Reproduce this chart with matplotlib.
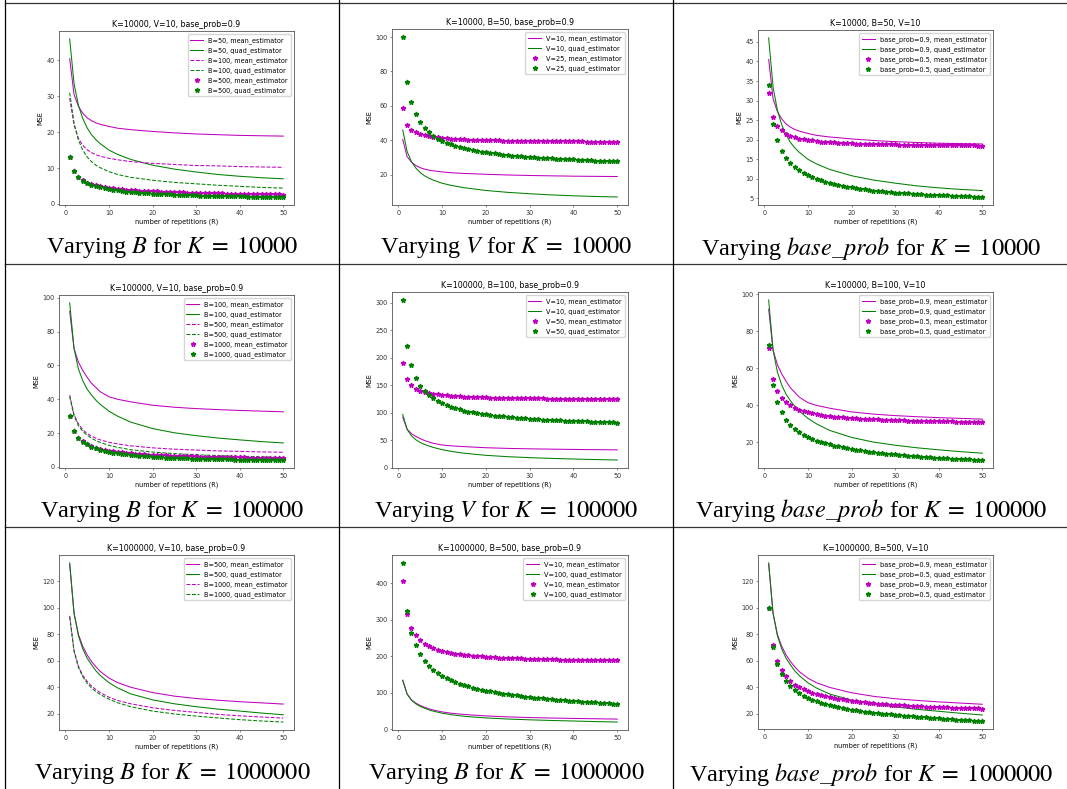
import matplotlib
matplotlib.use("Agg")
import matplotlib.pyplot as plt

plt.rcParams['mathtext.fontset'] = 'stix'

# repetitions R
R = list(range(1, 51))
R_line = [1, 2, 3, 4, 5, 6, 7, 8, 10, 12, 15, 20, 25, 30, 35, 40, 45, 50]

# ---- K=10000 ----
k1e4_mean_b50 = [40.5, 30.5, 27.2, 25.3, 24.0, 23.2, 22.6, 22.2, 21.6, 21.1, 20.7, 20.2, 19.8, 19.5, 19.3, 19.1, 19.0, 18.9]
k1e4_quad_b50 = [46.0, 33.5, 27.5, 23.8, 21.2, 19.3, 17.9, 16.8, 15.0, 13.8, 12.4, 10.8, 9.7, 8.9, 8.2, 7.7, 7.3, 7.0]
k1e4_mean_b100 = [29.5, 22.0, 18.3, 16.3, 15.1, 14.3, 13.7, 13.3, 12.7, 12.3, 11.8, 11.3, 11.0, 10.7, 10.6, 10.4, 10.3, 10.2]
k1e4_quad_b100 = [31.0, 22.5, 17.8, 15.0, 13.1, 11.8, 10.8, 10.1, 9.0, 8.2, 7.4, 6.6, 6.0, 5.6, 5.2, 4.9, 4.6, 4.4]
k1e4_mean_b500 = [13.0, 9.2, 7.6, 6.6, 5.9, 5.5, 5.2, 4.9, 4.7, 4.5,
                  4.35, 4.2, 4.1, 4.0, 3.9, 3.8, 3.7, 3.65, 3.6, 3.55,
                  3.5, 3.45, 3.4, 3.35, 3.3, 3.25, 3.2, 3.17, 3.14, 3.1,
                  3.07, 3.04, 3.0, 2.98, 2.95, 2.92, 2.9, 2.87, 2.85, 2.82,
                  2.8, 2.78, 2.76, 2.74, 2.72, 2.7, 2.68, 2.66, 2.64, 2.62]
k1e4_quad_b500 = [13.2, 9.2, 7.5, 6.5, 5.8, 5.3, 4.9, 4.6, 4.35, 4.1,
                  3.9, 3.75, 3.6, 3.45, 3.35, 3.25, 3.15, 3.05, 2.97, 2.9,
                  2.83, 2.77, 2.71, 2.65, 2.6, 2.55, 2.5, 2.46, 2.42, 2.38,
                  2.34, 2.31, 2.28, 2.25, 2.22, 2.19, 2.16, 2.14, 2.11, 2.09,
                  2.07, 2.05, 2.03, 2.01, 1.99, 1.97, 1.95, 1.93, 1.92, 1.9]
k1e4_mean_v25 = [59, 49, 46, 44.5, 43.5, 42.8, 42.3, 41.9, 41.6, 41.3,
                 41.1, 40.9, 40.8, 40.6, 40.5, 40.4, 40.3, 40.2, 40.1, 40.0,
                 40.0, 39.9, 39.9, 39.8, 39.8, 39.7, 39.7, 39.6, 39.6, 39.6,
                 39.5, 39.5, 39.5, 39.4, 39.4, 39.4, 39.4, 39.3, 39.3, 39.3,
                 39.3, 39.3, 39.2, 39.2, 39.2, 39.2, 39.2, 39.1, 39.1, 39.1]
k1e4_quad_v25 = [100, 74, 62, 55, 50.5, 47, 44.5, 42.5, 41, 39.7,
                 38.6, 37.6, 36.8, 36.1, 35.4, 34.8, 34.3, 33.8, 33.4, 33.0,
                 32.6, 32.3, 32.0, 31.7, 31.4, 31.1, 30.9, 30.7, 30.5, 30.3,
                 30.1, 29.9, 29.7, 29.6, 29.4, 29.3, 29.1, 29.0, 28.9, 28.8,
                 28.6, 28.5, 28.4, 28.3, 28.2, 28.1, 28.0, 27.9, 27.8, 27.7]
k1e4_mean_bp05 = [32, 25.9, 23.5, 22.4, 21.5, 21.0, 20.6, 20.3, 20.1, 19.9,
                  19.8, 19.6, 19.5, 19.4, 19.35, 19.3, 19.2, 19.15, 19.1, 19.05,
                  19.0, 19.0, 18.95, 18.9, 18.9, 18.85, 18.85, 18.8, 18.8, 18.8,
                  18.75, 18.75, 18.7, 18.7, 18.7, 18.7, 18.65, 18.65, 18.65, 18.6,
                  18.6, 18.6, 18.6, 18.6, 18.55, 18.55, 18.55, 18.55, 18.5, 18.5]
k1e4_quad_bp05 = [33.9, 24.1, 19.8, 17.2, 15.4, 14.0, 13.0, 12.2, 11.5, 10.9,
                  10.4, 10.0, 9.6, 9.3, 9.0, 8.7, 8.4, 8.2, 8.0, 7.8,
                  7.6, 7.45, 7.3, 7.15, 7.0, 6.9, 6.8, 6.7, 6.6, 6.5,
                  6.4, 6.35, 6.3, 6.2, 6.15, 6.1, 6.0, 5.95, 5.9, 5.85,
                  5.8, 5.75, 5.7, 5.65, 5.6, 5.55, 5.5, 5.45, 5.4, 5.35]

# ---- K=100000 ----
k1e5_mean_b100 = [92, 70, 62, 57, 53, 49.5, 47, 44.5, 41.5, 40, 38.5, 36.5, 35.3, 34.5, 33.9, 33.4, 33.0, 32.6]
k1e5_quad_b100 = [97, 70, 58, 51, 46, 42.5, 39.5, 37, 33, 30, 26.5, 22.7, 20.2, 18.5, 17.1, 16.0, 15.0, 14.2]
k1e5_mean_b500 = [42.5, 31, 25.5, 22, 19.8, 18.2, 17, 16, 14.6, 13.6, 12.5, 11.3, 10.5, 10.0, 9.5, 9.2, 8.9, 8.7]
k1e5_quad_b500 = [41.5, 30, 24.5, 21, 18.8, 17.0, 15.6, 14.5, 12.8, 11.6, 10.2, 8.8, 7.9, 7.2, 6.7, 6.3, 6.0, 5.7]
k1e5_mean_b1000 = [30, 21.3, 17.4, 15.1, 13.5, 12.3, 11.4, 10.7, 10.1, 9.6,
                   9.2, 8.85, 8.55, 8.3, 8.05, 7.85, 7.65, 7.5, 7.35, 7.2,
                   7.05, 6.95, 6.85, 6.75, 6.65, 6.55, 6.45, 6.4, 6.3, 6.25,
                   6.15, 6.1, 6.05, 6.0, 5.9, 5.85, 5.8, 5.75, 5.7, 5.65,
                   5.6, 5.55, 5.5, 5.5, 5.45, 5.4, 5.35, 5.3, 5.3, 5.25]
k1e5_quad_b1000 = [30, 21.3, 17.4, 15.0, 13.3, 12.0, 11.0, 10.2, 9.6, 9.0,
                   8.5, 8.1, 7.7, 7.4, 7.1, 6.85, 6.6, 6.4, 6.2, 6.0,
                   5.85, 5.7, 5.55, 5.45, 5.35, 5.25, 5.15, 5.05, 4.95, 4.9,
                   4.8, 4.75, 4.7, 4.65, 4.6, 4.55, 4.5, 4.45, 4.4, 4.35,
                   4.3, 4.27, 4.24, 4.21, 4.18, 4.15, 4.12, 4.09, 4.06, 4.03]
k1e5_mean_v50 = [190, 161, 150, 144, 140.5, 138, 136, 134.5, 133.3, 132.3,
                 131.5, 130.8, 130.2, 129.7, 129.3, 128.9, 128.6, 128.3, 128.0, 127.8,
                 127.6, 127.4, 127.2, 127.0, 126.9, 126.7, 126.6, 126.5, 126.4, 126.3,
                 126.2, 126.1, 126.0, 125.9, 125.8, 125.8, 125.7, 125.6, 125.6, 125.5,
                 125.5, 125.4, 125.4, 125.3, 125.3, 125.2, 125.2, 125.1, 125.1, 125.0]
k1e5_quad_v50 = [305, 221, 186, 163, 149, 140, 132, 126, 121, 117,
                 113.5, 110.5, 108, 106, 104, 102.3, 100.8, 99.4, 98.2, 97,
                 96, 95, 94.1, 93.3, 92.5, 91.8, 91.1, 90.5, 89.9, 89.3,
                 88.8, 88.3, 87.8, 87.4, 87.0, 86.6, 86.2, 85.8, 85.5, 85.1,
                 84.8, 84.5, 84.2, 83.9, 83.6, 83.3, 83.0, 82.8, 82.5, 82.2]
k1e5_mean_bp05 = [71, 54.5, 47.7, 44.2, 41.7, 40.0, 38.7, 37.7, 36.9, 36.2,
                  35.7, 35.2, 34.8, 34.5, 34.2, 33.9, 33.7, 33.5, 33.3, 33.1,
                  33.0, 32.8, 32.7, 32.6, 32.5, 32.4, 32.3, 32.2, 32.1, 32.0,
                  31.95, 31.9, 31.8, 31.75, 31.7, 31.65, 31.6, 31.55, 31.5, 31.45,
                  31.4, 31.4, 31.35, 31.3, 31.3, 31.25, 31.2, 31.2, 31.15, 31.1]
k1e5_quad_bp05 = [72.5, 51.3, 41.6, 36.2, 32.2, 29.5, 27.3, 25.6, 24.1, 22.9,
                  21.9, 21.0, 20.2, 19.5, 18.9, 18.3, 17.8, 17.3, 16.9, 16.5,
                  16.0, 15.7, 15.3, 15.0, 14.7, 14.4, 14.1, 13.9, 13.7, 13.5,
                  13.3, 13.1, 12.9, 12.7, 12.5, 12.35, 12.2, 12.0, 11.85, 11.7,
                  11.5, 11.4, 11.25, 11.15, 11.0, 10.9, 10.8, 10.7, 10.6, 10.5]

# ---- K=1000000 ----
k1e6_mean_b500 = [133, 96, 80, 71, 64.5, 59.5, 55.5, 52, 47, 43.5, 40, 36, 33.3, 31.5, 30.2, 29.1, 28.2, 27.3]
k1e6_quad_b500 = [134, 96, 79, 69, 62, 57, 52.5, 49, 43.5, 39.5, 35, 30.5, 27.5, 25.3, 23.5, 22, 20.5, 19.2]
k1e6_mean_b1000 = [94, 68, 56, 49, 44.5, 41, 38.2, 36, 32.5, 30, 27.5, 24.5, 22.5, 21, 19.5, 18.4, 17.5, 16.7]
k1e6_quad_b1000 = [93, 67, 55, 48, 43, 39.5, 36.8, 34.5, 31, 28.3, 25.3, 22, 19.8, 18.2, 16.8, 15.5, 14.5, 13.7]
k1e6_mean_v100 = [405, 316, 278, 257, 244, 234, 227, 221.5, 217.5, 214,
                  211, 208.5, 206.5, 205, 203.5, 202.2, 201, 200, 199, 198.2,
                  197.4, 196.7, 196, 195.4, 194.8, 194.3, 193.8, 193.4, 193, 192.6,
                  192.2, 191.9, 191.6, 191.3, 191, 190.7, 190.5, 190.2, 190, 189.8,
                  189.6, 189.4, 189.2, 189, 188.8, 188.7, 188.5, 188.3, 188.2, 188]
k1e6_quad_v100 = [455, 324, 264, 229, 205, 187, 174, 162, 153, 146,
                  139.5, 134, 129, 124.5, 120.5, 117, 113.7, 110.8, 108, 105.3,
                  103.0, 101.0, 99.0, 97.2, 95.4, 93.7, 92.0, 90.5, 89.0, 87.5,
                  86.3, 85.1, 84.0, 82.9, 81.8, 80.8, 79.8, 78.8, 77.9, 77.0,
                  76.2, 75.4, 74.6, 73.8, 73.0, 72.2, 71.4, 70.6, 69.8, 69.0]
k1e6_mean_bp = [100, 72, 60, 52.8, 48.4, 44.9, 42.2, 40.2, 38.6, 37.2,
                36.0, 35.0, 34.1, 33.3, 32.6, 32.0, 31.4, 30.9, 30.4, 29.9,
                29.5, 29.1, 28.7, 28.4, 28.1, 27.8, 27.5, 27.3, 27.0, 26.8,
                26.6, 26.4, 26.2, 26.0, 25.8, 25.7, 25.5, 25.4, 25.2, 25.1,
                25.0, 24.9, 24.8, 24.7, 24.6, 24.5, 24.4, 24.3, 24.2, 24.1]
k1e6_quad_bp = [99.6, 70.5, 57.8, 49.9, 44.6, 41.1, 38.2, 35.7, 33.8, 32.2,
                30.8, 29.6, 28.5, 27.6, 26.7, 25.9, 25.2, 24.5, 23.9, 23.3,
                22.8, 22.3, 21.8, 21.4, 21.0, 20.6, 20.2, 19.9, 19.6, 19.3,
                19.0, 18.7, 18.4, 18.1, 17.9, 17.6, 17.4, 17.1, 16.9, 16.7,
                16.4, 16.2, 16.0, 15.8, 15.6, 15.4, 15.2, 15.0, 14.8, 14.6]

M = 'm'
G = 'g'

panels = [
    ("K=10000, V=10, base_prob=0.9", (59, 31, 294, 205), [0, 10, 20, 30, 40], [
        (R_line, k1e4_mean_b50, M, '-', "B=50, mean_estimator"),
        (R_line, k1e4_quad_b50, G, '-', "B=50, quad_estimator"),
        (R_line, k1e4_mean_b100, M, '--', "B=100, mean_estimator"),
        (R_line, k1e4_quad_b100, G, '--', "B=100, quad_estimator"),
        (R, k1e4_mean_b500, M, '*', "B=500, mean_estimator"),
        (R, k1e4_quad_b500, G, '*', "B=500, quad_estimator")]),
    ("K=10000, B=50, base_prob=0.9", (392, 29, 628, 205), [20, 40, 60, 80, 100], [
        (R_line, k1e4_mean_b50, M, '-', "V=10, mean_estimator"),
        (R_line, k1e4_quad_b50, G, '-', "V=10, quad_estimator"),
        (R, k1e4_mean_v25, M, '*', "V=25, mean_estimator"),
        (R, k1e4_quad_v25, G, '*', "V=25, quad_estimator")]),
    ("K=10000, B=50, V=10", (758, 30, 993, 205), [5, 10, 15, 20, 25, 30, 35, 40, 45], [
        (R_line, k1e4_mean_b50, M, '-', "base_prob=0.9, mean_estimator"),
        (R_line, k1e4_quad_b50, G, '-', "base_prob=0.9, quad_estimator"),
        (R, k1e4_mean_bp05, M, '*', "base_prob=0.5, mean_estimator"),
        (R, k1e4_quad_bp05, G, '*', "base_prob=0.5, quad_estimator")]),
    ("K=100000, V=10, base_prob=0.9", (59, 295, 294, 468), [0, 20, 40, 60, 80, 100], [
        (R_line, k1e5_mean_b100, M, '-', "B=100, mean_estimator"),
        (R_line, k1e5_quad_b100, G, '-', "B=100, quad_estimator"),
        (R_line, k1e5_mean_b500, M, '--', "B=500, mean_estimator"),
        (R_line, k1e5_quad_b500, G, '--', "B=500, quad_estimator"),
        (R, k1e5_mean_b1000, M, '*', "B=1000, mean_estimator"),
        (R, k1e5_quad_b1000, G, '*', "B=1000, quad_estimator")]),
    ("K=100000, B=100, base_prob=0.9", (392, 292, 628, 468), [0, 50, 100, 150, 200, 250, 300], [
        (R_line, k1e5_mean_b100, M, '-', "V=10, mean_estimator"),
        (R_line, k1e5_quad_b100, G, '-', "V=10, quad_estimator"),
        (R, k1e5_mean_v50, M, '*', "V=50, mean_estimator"),
        (R, k1e5_quad_v50, G, '*', "V=50, quad_estimator")]),
    ("K=100000, B=100, V=10", (758, 292, 993, 468), [20, 40, 60, 80, 100], [
        (R_line, k1e5_mean_b100, M, '-', "base_prob=0.9, mean_estimator"),
        (R_line, k1e5_quad_b100, G, '-', "base_prob=0.9, quad_estimator"),
        (R, k1e5_mean_bp05, M, '*', "base_prob=0.5, mean_estimator"),
        (R, k1e5_quad_bp05, G, '*', "base_prob=0.5, quad_estimator")]),
    ("K=1000000, V=10, base_prob=0.9", (59, 555, 294, 730), [20, 40, 60, 80, 100, 120], [
        (R_line, k1e6_mean_b500, M, '-', "B=500, mean_estimator"),
        (R_line, k1e6_quad_b500, G, '-', "B=500, quad_estimator"),
        (R_line, k1e6_mean_b1000, M, '--', "B=1000, mean_estimator"),
        (R_line, k1e6_quad_b1000, G, '--', "B=1000, quad_estimator")]),
    ("K=1000000, B=500, base_prob=0.9", (392, 555, 628, 730), [0, 100, 200, 300, 400], [
        (R_line, k1e6_mean_b500, M, '-', "V=10, mean_estimator"),
        (R_line, k1e6_quad_b500, G, '-', "V=100, quad_estimator"),
        (R, k1e6_mean_v100, M, '*', "V=10, mean_estimator"),
        (R, k1e6_quad_v100, G, '*', "V=100, quad_estimator")]),
    ("K=1000000, B=500, V=10", (758, 555, 993, 729), [20, 40, 60, 80, 100, 120], [
        (R_line, k1e6_mean_b500, M, '-', "base_prob=0.9, mean_estimator"),
        (R_line, k1e6_quad_b500, G, '-', "base_prob=0.5, quad_estimator"),
        (R, k1e6_mean_bp, M, '*', "base_prob=0.9, mean_estimator"),
        (R, k1e6_quad_bp, G, '*', "base_prob=0.5, quad_estimator")]),
]

captions = [
    (r"Varying $B$ for $K \;=\; 10000$", 172, 248),
    (r"Varying $V$ for $K \;=\; 10000$", 506, 248),
    (r"Varying $base\_prob$ for $K \;=\; 10000$", 871, 248),
    (r"Varying $B$ for $K \;=\; 100000$", 172, 511),
    (r"Varying $V$ for $K \;=\; 100000$", 506, 511),
    (r"Varying $base\_prob$ for $K \;=\; 100000$", 871, 511),
    (r"Varying $B$ for $K \;=\; 1000000$", 172, 774),
    (r"Varying $B$ for $K \;=\; 1000000$", 506, 774),
    (r"Varying $base\_prob$ for $K \;=\; 1000000$", 871, 774),
]

W, H = 1067, 789
fig = plt.figure(figsize=(W / 100, H / 100), dpi=100)

# table rules
bg = fig.add_axes([0, 0, 1, 1], zorder=-1)
bg.set_xlim(0, W)
bg.set_ylim(H, 0)
bg.axis('off')
for yy in [2.5, 264, 527]:
    bg.plot([5, W], [yy, yy], color='#333333', lw=0.9)
for xx in [5, 339, 673]:
    bg.plot([xx, xx], [0, H], color='black', lw=0.9)

fs = 4.7
for title, (l, t, r, b), yt, series in panels:
    ax = fig.add_axes([l / W, 1 - b / H, (r - l) / W, (b - t) / H])
    for x, y, c, st, lab in series:
        if st == '*':
            ax.plot(x, y, '*', color=c, ms=3.5, ls='none', label=lab)
        else:
            ax.plot(x, y, st, color=c, lw=0.75, label=lab)
    ax.set_xticks([0, 10, 20, 30, 40, 50])
    ax.set_yticks(yt)
    ax.tick_params(labelsize=fs, length=1.7, width=0.4, pad=1.6, colors='#333333')
    for sp in ax.spines.values():
        sp.set_linewidth(0.6)
        sp.set_color('#555555')
    ax.set_title(title, fontsize=5.7, pad=2.8)
    ax.set_xlabel("number of repetitions (R)", fontsize=fs, labelpad=1.9)
    ax.set_ylabel("MSE", fontsize=fs, labelpad=1.9)
    ax.legend(loc='upper right', fontsize=fs, framealpha=0.8)

for text, cx, cy in captions:
    fig.text(cx / W, 1 - cy / H, text, ha='center', va='center',
             fontsize=17.5, family='Liberation Serif')

fig.savefig('out.png', dpi=100)
